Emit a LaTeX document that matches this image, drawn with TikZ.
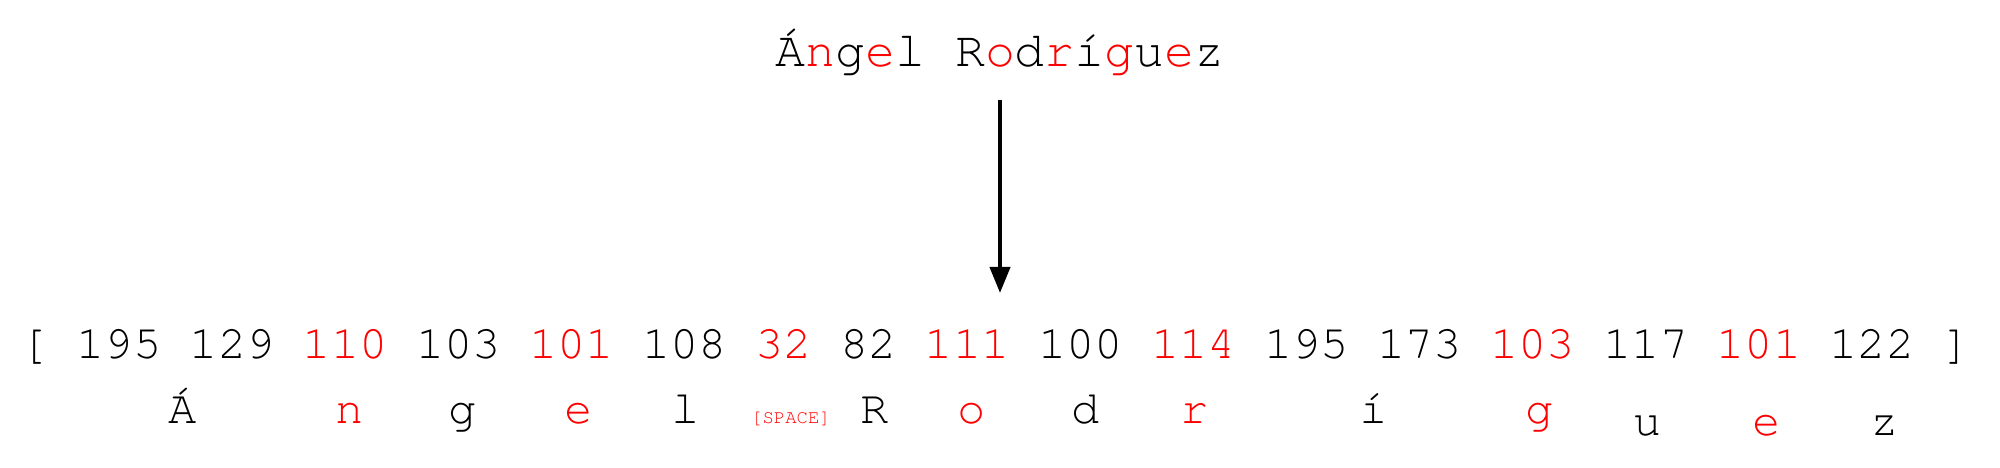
\documentclass[tikz,border=0pt]{standalone}
\usepackage{fontspec}
\setmonofont{TeX Gyre Cursor}
\usepackage{tikz}
\usetikzlibrary{arrows.meta}
\usetikzlibrary{calc}
\tikzstyle{word} = [font=\ttfamily\fontsize{14.2}{17}\selectfont, inner sep=0pt, anchor=base]
\tikzstyle{bytes} = [font=\ttfamily\fontsize{13.4}{16}\selectfont, inner sep=0pt, anchor=base west]
\tikzstyle{glyph} = [font=\ttfamily\fontsize{13.4}{16}\selectfont, inner sep=0pt, anchor=base]
\tikzstyle{tag} = [font=\ttfamily\fontsize{5.4}{6}\selectfont, inner sep=0pt, anchor=base, text=red]
\tikzstyle{connector} = [-{Triangle[length=2.6mm,width=2mm]}, line width=1.15pt]
\newcommand{\redtxt}[1]{\textcolor{red}{#1}}

\begin{document}
\begin{tikzpicture}[x=0.01cm, y=-0.01cm]
	\useasboundingbox (0,0) rectangle (2000,468);

	% the name on top
	\node[word] (name) at (1000,67)
		{Á\redtxt{n}g\redtxt{e}l R\redtxt{o}d\redtxt{r}í\redtxt{g}u\redtxt{e}z};

	% the bytes
	\node[bytes] (codes) at (19.5,359)
		{[ 195 129 \redtxt{110} 103 \redtxt{101} 108 \redtxt{32} 82 \redtxt{111} 100 \redtxt{114} 195 173 \redtxt{103} 117 \redtxt{101} 122 ]};

	% the characters under them
	\node[glyph] (ch1) at (183,424) {Á};
	\node[glyph, text=red] (ch2) at (350,424) {n};
	\node[glyph] (ch3) at (463,424) {g};
	\node[glyph, text=red] (ch4) at (579,424) {e};
	\node[glyph] (ch5) at (686,424) {l};
	\node[tag] (ch6) at (791,424) {[SPACE]};
	\node[glyph] (ch7) at (875,424) {R};
	\node[glyph, text=red] (ch8) at (972,424) {o};
	\node[glyph] (ch9) at (1086,424) {d};
	\node[glyph, text=red] (ch10) at (1195,424) {r};
	\node[glyph] (ch11) at (1374,424) {í};
	\node[glyph, text=red] (ch12) at (1540,424) {g};
	\node[glyph] (ch13) at (1648,436) {u};
	\node[glyph, text=red] (ch14) at (1767,436) {e};
	\node[glyph] (ch15) at (1885,436) {z};

	% now link the name to the bytes
	\draw [connector] ($(name.base)+(0,33)$) -- ($(name.base |- codes.base)+(0,-66)$);

\end{tikzpicture}
\end{document}
